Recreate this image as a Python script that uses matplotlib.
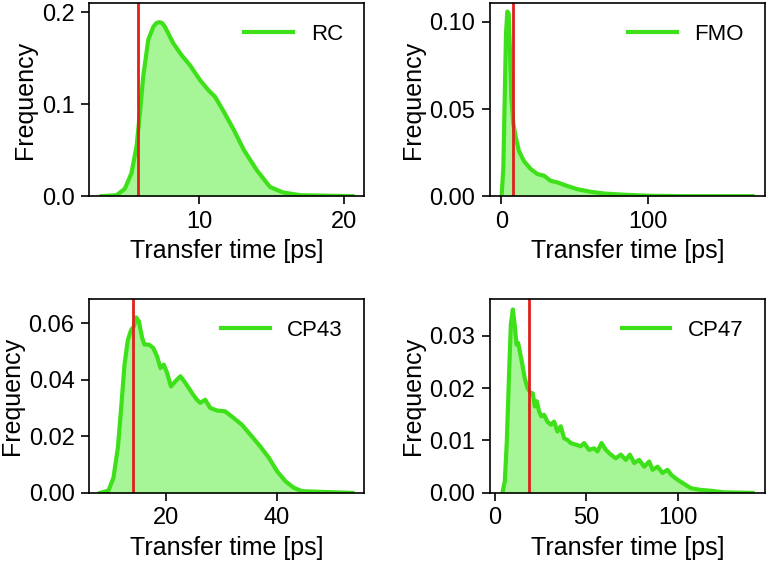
# Distribuciones de tiempos de transferencia para cuatro complejos
import matplotlib.pyplot as plt

plt.rcParams['font.family'] = ['Liberation Sans', 'DejaVu Sans']

# Datos (tiempo en ps, frecuencia)
rc_t = [3.26, 4.3, 4.87, 5.33, 5.68, 5.91, 6.14, 6.49, 6.84, 7.05, 7.25, 7.45, 7.64, 8.22,
        8.80, 9.38, 10.07, 10.65, 11.1, 11.7, 12.4, 13.1, 14.0, 14.9, 15.8, 17.0, 20.6]
rc_f = [0.0, 0.001, 0.008, 0.025, 0.054, 0.090, 0.130, 0.170, 0.184, 0.188, 0.189, 0.188,
        0.184, 0.166, 0.153, 0.142, 0.126, 0.115, 0.108, 0.092, 0.072, 0.050, 0.028, 0.010,
        0.004, 0.001, 0.0]
rc_mean = 5.75

fmo_t = [0.2, 1.4, 2.3, 3.2, 4.1, 5.0, 5.9, 6.8, 8.2, 9.8, 12.0, 15.5, 20.0, 24.5, 29.1,
         33.6, 38.2, 45.0, 51.8, 60.9, 70.0, 83.6, 101.8, 124.5, 171.0]
fmo_f = [0.0, 0.0165, 0.055, 0.093, 0.106, 0.105, 0.084, 0.057, 0.0415, 0.034, 0.026,
         0.020, 0.0156, 0.0127, 0.0117, 0.0088, 0.0079, 0.0058, 0.0040, 0.0025, 0.0015,
         0.0008, 0.0002, 0.0, 0.0]
fmo_mean = 8.0

cp43_t = [8.1, 9.6, 10.5, 11.3, 11.9, 12.5, 13.1, 13.7, 14.2, 14.6, 15.1, 15.7, 16.1, 16.9,
          17.7, 18.4, 19.0, 19.6, 20.2, 20.9, 21.7, 22.6, 23.3, 24.1, 24.9, 25.6, 26.2,
          27.1, 28.0, 29.2, 30.7, 32.2, 33.7, 35.5, 37.0, 38.6, 40.1, 41.6, 43.1, 44.6,
          47.3, 53.7]
cp43_f = [0.0, 0.0008, 0.0053, 0.0159, 0.030, 0.0453, 0.054, 0.0576, 0.0588, 0.062, 0.0606,
          0.0547, 0.0524, 0.0524, 0.0512, 0.0482, 0.0441, 0.0453, 0.0424, 0.0376, 0.0394,
          0.0412, 0.0394, 0.0371, 0.0347, 0.0329, 0.0318, 0.0329, 0.030, 0.0291, 0.0288,
          0.0265, 0.0241, 0.020, 0.0165, 0.0124, 0.0076, 0.0041, 0.0018, 0.0006, 0.0004, 0.0]
cp43_mean = 14.0

cp47_t = [4.2, 5.5, 6.6, 7.7, 8.8, 9.9, 10.9, 11.9, 12.8, 13.9, 15.1, 16.4, 17.9, 19.7,
          20.8, 21.9, 23.0, 24.3, 25.5, 27.0, 28.8, 30.7, 32.5, 34.3, 36.1, 38.0, 39.8,
          41.6, 44.3, 47.1, 48.9, 51.6, 54.4, 56.2, 58.4, 60.8, 63.5, 66.2, 69.0, 71.7,
          73.9, 76.3, 79.0, 81.8, 84.5, 86.3, 89.1, 91.8, 94.5, 96.7, 100.0, 103.6, 107.3,
          111.9, 118.2, 125.5, 141.0]
cp47_f = [0.0, 0.0022, 0.0098, 0.0213, 0.0321, 0.035, 0.0321, 0.0283, 0.0286, 0.0267,
          0.0245, 0.0219, 0.020, 0.019, 0.019, 0.0165, 0.0175, 0.0155, 0.0146, 0.0149,
          0.0136, 0.013, 0.0136, 0.0117, 0.0127, 0.0104, 0.0101, 0.0095, 0.0092, 0.0089,
          0.0095, 0.0082, 0.0085, 0.0079, 0.0095, 0.0082, 0.0073, 0.0066, 0.0073, 0.0063,
          0.0073, 0.0057, 0.0063, 0.005, 0.006, 0.0044, 0.005, 0.0038, 0.0044, 0.0034,
          0.0025, 0.0017, 0.0009, 0.0006, 0.0004, 0.0001, 0.0]
cp47_mean = 18.6

panels = [
    ('RC', rc_t, rc_f, rc_mean, (2.4, 21.4), (0, 0.21), [10, 20], [0.0, 0.1, 0.2], '%.1f'),
    ('FMO', fmo_t, fmo_f, fmo_mean, (-7.7, 179.5), (0, 0.111), [0, 100], [0.0, 0.05, 0.10], '%.2f'),
    ('CP43', cp43_t, cp43_f, cp43_mean, (6.1, 55.8), (0, 0.0685), [20, 40],
     [0.0, 0.02, 0.04, 0.06], '%.2f'),
    ('CP47', cp47_t, cp47_f, cp47_mean, (-2.6, 147.8), (0, 0.037), [0, 50, 100],
     [0.0, 0.01, 0.02, 0.03], '%.2f'),
]

# posiciones de los ejes en fraccion de figura
posiciones = [
    [0.116, 0.651, 0.358, 0.344],
    [0.638, 0.651, 0.358, 0.344],
    [0.116, 0.123, 0.358, 0.345],
    [0.638, 0.123, 0.358, 0.345],
]

linea = '#3ee01a'
relleno = '#a6f596'
rojo = '#e0201a'

fig = plt.figure(figsize=(7.68, 5.62), dpi=100)

for (nombre, t, f, media, xl, yl, xt, yt, fmt), pos in zip(panels, posiciones):
    ax = fig.add_axes(pos)
    ax.fill_between(t, f, 0, color=relleno, linewidth=0)
    ax.plot(t, f, color=linea, linewidth=3, label=nombre)
    ax.axvline(media, color=rojo, linewidth=2)
    ax.set_xlim(*xl)
    ax.set_ylim(*yl)
    ax.set_xticks(xt)
    ax.set_yticks(yt)
    ax.set_yticklabels([fmt % v for v in yt])
    ax.tick_params(labelsize=17, length=6, width=1.2, direction='out', pad=4.5)
    for s in ax.spines.values():
        s.set_linewidth(1.2)
    ax.set_xlabel('Transfer time [ps]', fontsize=18, labelpad=4.5)
    ax.set_ylabel('Frequency', fontsize=18, labelpad=3.5)
    ax.legend(loc='upper right', frameon=False, fontsize=16, handlelength=2.2,
              borderaxespad=0.55)

plt.savefig('out.png', dpi=100)
